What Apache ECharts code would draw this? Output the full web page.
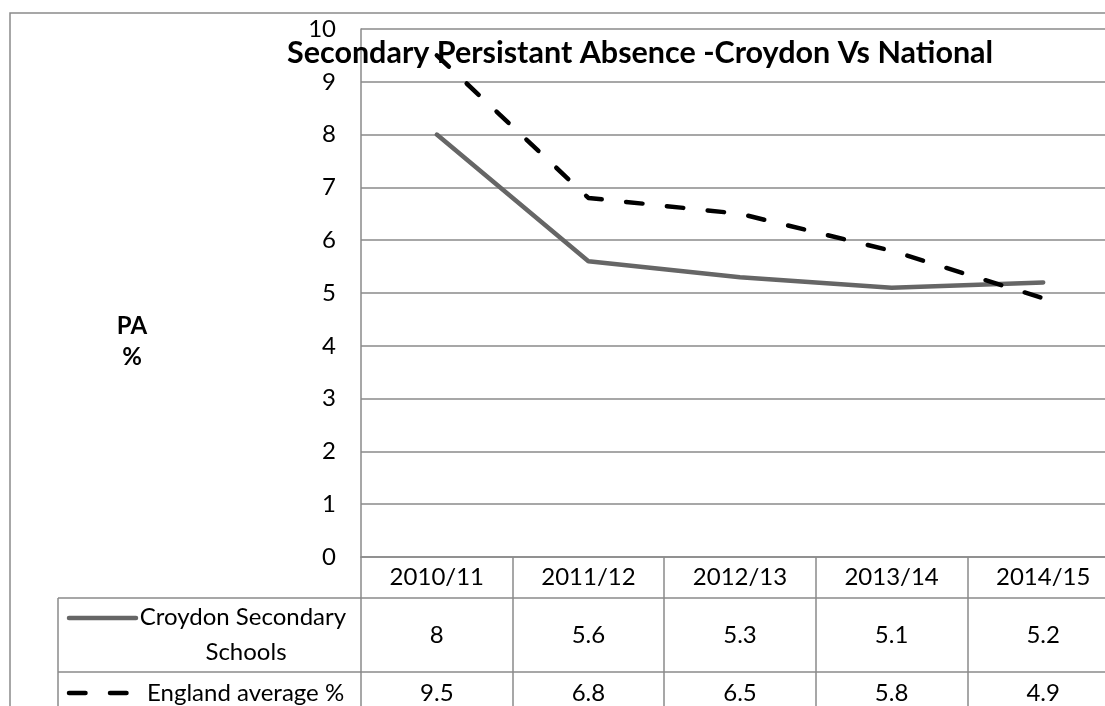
<!DOCTYPE html>
<html>
<head>
<meta charset="utf-8">
<script src="https://cdn.jsdelivr.net/npm/echarts@6/dist/echarts.min.js"></script>
<style>
  html, body { margin: 0; padding: 0; background: #fff; }
  #chart { width: 1105px; height: 706px; }
</style>
</head>
<body>
<div id="chart"></div>
<script>
// Persistent absence (%) by academic year
const categories = ['2010/11', '2011/12', '2012/13', '2013/14', '2014/15'];
const croydon = [8, 5.6, 5.3, 5.1, 5.2];
const england = [9.5, 6.8, 6.5, 5.8, 4.9];
const seriesNames = ['Croydon Secondary Schools', 'England average %'];
const yMin = 0, yMax = 10, yStep = 1;

const FONT = 'Lato';
const GRID = '#8a8a8a';
const DASH = [16.5, 24.5];
const LINE_W = 4.5;

// plot area + data table layout
const P = { left: 361, top: 29, bottom: 557, right: 1119, tableLeft: 58, rowA: 598, rowB: 672, foot: 706 };

const chart = echarts.init(document.getElementById('chart'), null, { renderer: 'canvas' });

const tableAxis = (data, offset, margin) => ({
  type: 'category',
  data: data,
  position: 'bottom',
  offset: offset,
  boundaryGap: true,
  axisLine: { show: true, lineStyle: { color: GRID, width: 1.5 } },
  axisTick: { show: false },
  axisLabel: { margin: margin, verticalAlign: 'middle', fontFamily: FONT, fontSize: 24, color: '#000', interval: 0 },
  splitLine: { show: false }
});

chart.setOption({
  animation: false,
  title: {
    text: 'Secondary Persistant Absence -Croydon Vs National',
    left: 287, top: 38, padding: 0,
    textStyle: { fontFamily: FONT, fontSize: 30.5, fontWeight: 'bold', color: '#000', lineHeight: 30 }
  },
  grid: {
    left: P.left, top: P.top, right: 1105 - P.right, bottom: 706 - P.bottom,
    containLabel: false, outerBoundsMode: 'none'
  },
  xAxis: [
    {
      type: 'category',
      data: categories,
      boundaryGap: true,
      axisLine: { show: true, lineStyle: { color: GRID, width: 1.5 } },
      axisTick: { show: true, interval: 0, length: P.foot - P.bottom, lineStyle: { color: GRID, width: 1.5 } },
      axisLabel: { margin: 20, verticalAlign: 'middle', fontFamily: FONT, fontSize: 24, color: '#000', interval: 0 },
      splitLine: { show: false }
    },
    tableAxis(croydon.map(String), P.rowA - P.bottom, 37),
    tableAxis(england.map(String), P.rowB - P.bottom, 21)
  ],
  yAxis: {
    type: 'value',
    min: yMin, max: yMax, interval: yStep,
    axisLine: { show: true, lineStyle: { color: GRID, width: 1.5 } },
    axisTick: { show: false },
    axisLabel: { margin: 25, fontFamily: FONT, fontSize: 24, color: '#000' },
    splitLine: { show: true, lineStyle: { color: GRID, width: 1.5 } }
  },
  series: [
    {
      name: seriesNames[0], type: 'line', data: croydon, symbol: 'none',
      lineStyle: { color: '#666666', width: LINE_W, cap: 'round', join: 'round' },
      itemStyle: { color: '#666666' }, z: 3
    },
    {
      name: seriesNames[1], type: 'line', data: england, symbol: 'none',
      lineStyle: { color: '#000000', width: LINE_W, type: DASH, cap: 'round', join: 'round' },
      itemStyle: { color: '#000000' }, z: 4
    }
  ],
  graphic: [
    // outer chart frame
    { type: 'rect', shape: { x: 10, y: 13, width: 1300, height: 900 }, style: { fill: 'none', stroke: GRID, lineWidth: 1.5 }, silent: true },
    // data table: legend column frame
    { type: 'line', shape: { x1: P.tableLeft, y1: P.rowA, x2: P.left, y2: P.rowA }, style: { stroke: GRID, lineWidth: 1.5 } },
    { type: 'line', shape: { x1: P.tableLeft, y1: P.rowB, x2: P.left, y2: P.rowB }, style: { stroke: GRID, lineWidth: 1.5 } },
    { type: 'line', shape: { x1: P.tableLeft, y1: P.rowA, x2: P.tableLeft, y2: P.foot + 10 }, style: { stroke: GRID, lineWidth: 1.5 } },
    // legend keys
    { type: 'line', shape: { x1: 69, y1: 618, x2: 136, y2: 618 }, style: { stroke: '#666666', lineWidth: LINE_W, lineCap: 'round' } },
    { type: 'line', shape: { x1: 69, y1: 693, x2: 128, y2: 693 }, style: { stroke: '#000000', lineWidth: LINE_W, lineCap: 'round', lineDash: DASH } },
    // series names in the table
    { type: 'text', x: 246, y: 635, style: { text: seriesNames[0], width: 215, overflow: 'break', align: 'center', verticalAlign: 'middle', lineHeight: 35, font: '24px ' + FONT, fill: '#000' } },
    { type: 'text', x: 147, y: 693, style: { text: seriesNames[1], align: 'left', verticalAlign: 'middle', font: '24px ' + FONT, fill: '#000' } },
    // y-axis title
    { type: 'text', x: 132, y: 342, style: { text: 'PA\n%', align: 'center', verticalAlign: 'middle', lineHeight: 31, font: 'bold 24px ' + FONT, fill: '#000' } }
  ]
});
</script>
</body>
</html>
